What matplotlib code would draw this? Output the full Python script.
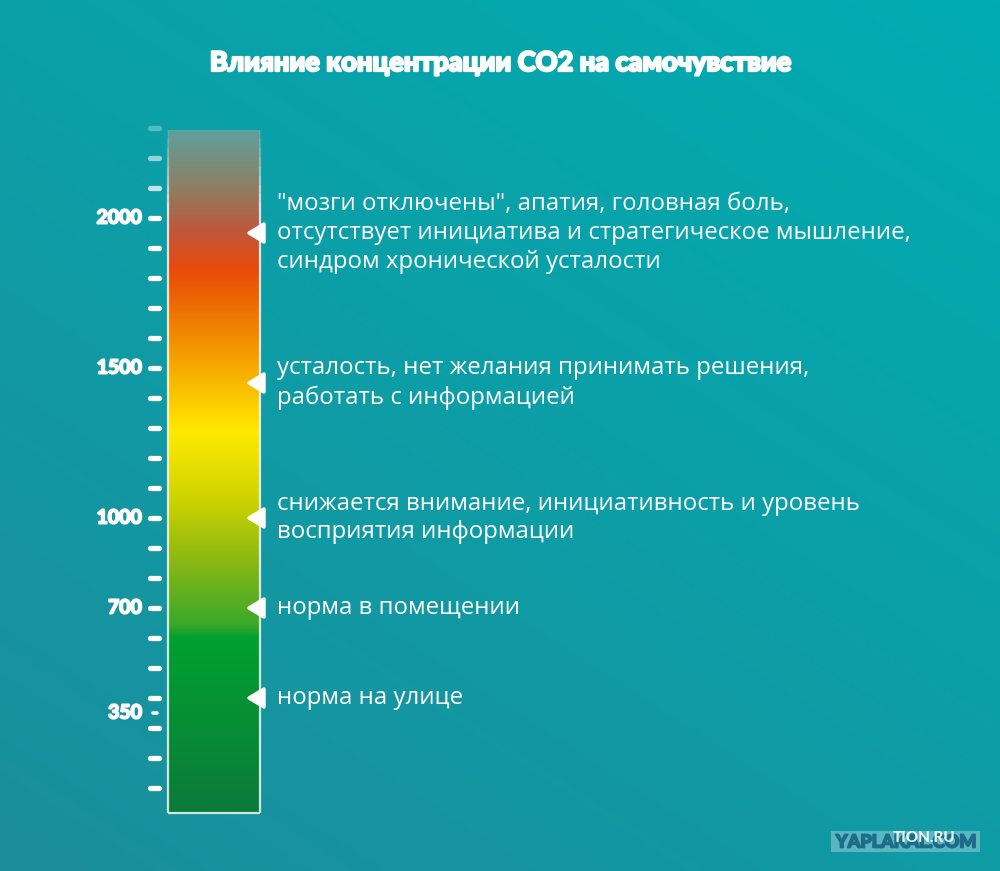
import numpy as np
import matplotlib
matplotlib.use("Agg")
import matplotlib.pyplot as plt
import matplotlib.patheffects as pe
from matplotlib.colors import LinearSegmentedColormap, to_rgb
from matplotlib.patches import Rectangle, Polygon

# ---- data ----
title = "Влияние концентрации CO2 на самочувствие"
tick_values = list(range(100, 2400, 100))
label_values = [2000, 1500, 1000, 700, 350]
label_texts = ["2000", "1500", "1000", "700", "350"]
marker_values = [1950, 1450, 1000, 700, 400]
marker_texts = [
    '"мозги отключены", апатия, головная боль,\nотсутствует инициатива и стратегическое мышление,\nсиндром хронической усталости',
    "усталость, нет желания принимать решения,\nработать с информацией",
    "снижается внимание, инициативность и уровень\nвосприятия информации",
    "норма в помещении",
    "норма на улице",
]
bar_min, bar_max = 17, 2293
# colour stops: (CO2 value, colour)
stop_values = [17, 250, 600, 640, 860, 1060, 1290, 1490, 1660, 1830, 1960, 2100, 2293]
stop_colors = ["#0b7a3a", "#088a36", "#00a030", "#3aa82a", "#8cb814", "#cdd300", "#ffea00",
               "#f7ad00", "#ef7c00", "#e84a0a", "#c0573c", "#8f7d62", "#5fa09c"]

# ---- figure ----
W, H = 1000, 871
fig = plt.figure(figsize=(W / 100, H / 100), dpi=100)
ax = fig.add_axes([0, 0, 1, 1])
y_of_px = lambda p: (818 - p) / 0.3
ax.set_xlim(0, W)
ax.set_ylim(y_of_px(H), y_of_px(0))
ax.axis("off")

# background gradient (diagonal)
gx, gy = np.meshgrid(np.linspace(0, 1, 200), np.linspace(0, 1, 200))
t = np.clip(0.55 * gx + 0.75 * gy, 0, 1.3) / 1.3  # gy=0 -> bottom
c0 = np.array(to_rgb("#1b8e9b"))
c1 = np.array(to_rgb("#00adb2"))
bg = c0[None, None, :] * (1 - t[..., None]) + c1[None, None, :] * t[..., None]
ax.imshow(bg, extent=[0, W, y_of_px(H), y_of_px(0)], origin="lower", aspect="auto", zorder=0)

# gradient bar
pos = [(v - bar_min) / (bar_max - bar_min) for v in stop_values]
cmap = LinearSegmentedColormap.from_list("co2", list(zip(pos, stop_colors)))
grad = np.linspace(0, 1, 512)[:, None]
ax.imshow(grad, cmap=cmap, extent=[168, 260, bar_min, bar_max], origin="lower",
          aspect="auto", zorder=2)
# border: bottom + sides, fading towards the top
edge_kw = dict(color="white", lw=1.6, zorder=3, solid_capstyle="butt")
ax.plot([168, 260], [bar_min, bar_min], alpha=0.8, **edge_kw)
ax.plot([168, 168], [bar_min, 2050], alpha=0.8, **edge_kw)
ax.plot([260, 260], [bar_min, 2050], alpha=0.8, **edge_kw)
fade = np.linspace(2050, bar_max, 9)
for i in range(len(fade) - 1):
    a = 0.8 * (1 - (i + 1) / len(fade))
    for xx in (168, 260):
        ax.plot([xx, xx], [fade[i], fade[i + 1]], alpha=a, **edge_kw)

# ticks
for v in tick_values:
    a = 1.0 if v <= 2000 else (0.75 if v == 2100 else (0.55 if v == 2200 else 0.3))
    ax.plot([150, 159], [v, v], color="white", alpha=a, lw=3.8,
            solid_capstyle="round", zorder=3)
ax.plot([153, 157], [350, 350], color="white", lw=2.6, solid_capstyle="round", zorder=3)

heavy = [pe.withStroke(linewidth=1.4, foreground="white")]
for v, s in zip(label_values, label_texts):
    ax.text(142, v, s, ha="right", va="center", color="white", fontsize=14,
            fontweight="bold", family="Lato", zorder=4, path_effects=heavy)

# markers and descriptions
for v, s in zip(marker_values, marker_texts):
    dy = 9 / 0.3
    ax.add_patch(Polygon([[249, v], [264, v + dy], [264, v - dy]], closed=True,
                         facecolor="white", edgecolor="white", lw=2.5,
                         joinstyle="round", zorder=5))
    ax.text(277, v, s, ha="left", va="center", color="white", fontsize=17.3,
            family="Open Sans", linespacing=1.26, zorder=5)

ax.text(500, y_of_px(63), title, ha="center", va="center", color="white",
        fontsize=19.5, fontweight="black", family="Lato", zorder=5,
        path_effects=[pe.withStroke(linewidth=1.6, foreground="white")])

# watermark
ax.add_patch(Rectangle((831, y_of_px(852)), 149, 21 / 0.3,
                       facecolor=(1, 1, 1, 0.3), edgecolor="none", zorder=6))
ax.text(906, y_of_px(842), "YAPLAKAL.COM", ha="center", va="center", color="#1d6c8a",
        fontsize=13, fontweight="black", family="Lato", zorder=7,
        path_effects=[pe.withStroke(linewidth=1.2, foreground="#1d6c8a")])
ax.text(924, y_of_px(838), "TION.RU", ha="center", va="center", color=(1, 1, 1, 0.9),
        fontsize=11, fontweight="black", family="Lato", zorder=8)

fig.savefig("out.png", dpi=100)
